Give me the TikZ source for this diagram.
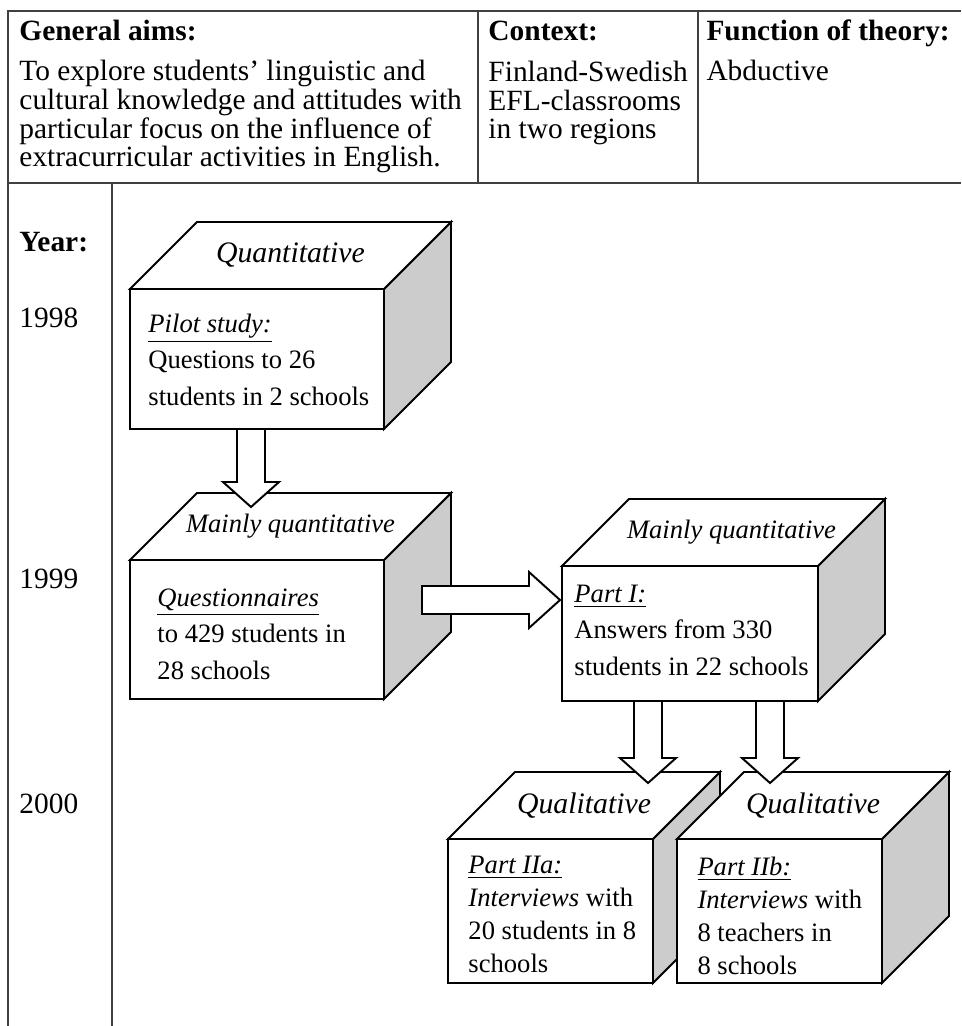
\documentclass[tikz,border=0pt]{standalone}
\usepackage{fontspec}
\setmainfont{Liberation Serif}
\usetikzlibrary{calc}

\tikzset{
  rule/.style={line width=0.55pt, draw=black!75},
  frontface/.style={line width=0.8pt, fill=white},
  topface/.style={line width=0.8pt, fill=white},
  sideface/.style={line width=0.8pt, fill=black!20},
  fatarrow/.style={line width=0.8pt, fill=white, line join=miter},
  % base anchor of these sits on the last line
  headtxt/.style={anchor=base west, inner sep=0pt, align=left, font=\fontsize{12.05}{11.8}\selectfont},
  boxtxt/.style={anchor=base west, inner sep=0pt, align=left, font=\fontsize{10.9}{14.9}\selectfont},
  lowtxt/.style={boxtxt, font=\fontsize{10.9}{13.5}\selectfont},
  toplab/.style={inner sep=0pt, font=\fontsize{12.2}{12}\selectfont\itshape},
  toplabsmall/.style={inner sep=0pt, font=\fontsize{10.9}{12}\selectfont\itshape}
}

% box with top and side face: name, front top-left, width, height
\newcommand{\cuboid}[4]{%
  \coordinate (#1-nw) at (#2);
  \coordinate (#1-ne) at ($(#2)+(#3,0)$);
  \coordinate (#1-se) at ($(#2)+(#3,#4)$);
  \filldraw[sideface] (#1-ne) -- ++(67,-67) -- ++(0,#4) -- (#1-se) -- cycle;
  \filldraw[topface] (#1-nw) -- ++(67,-67) -- ++(#3,0) -- (#1-ne) -- cycle;
  \filldraw[frontface] (#1-nw) rectangle (#1-se);
  \coordinate (#1-top) at ($(#1-nw)+(#3/2+33.5,-33.5)$);
}

% block arrows: start, tip
\newcommand{\fatdown}[2]{%
  \filldraw[fatarrow] ($(#1)+(-14,0)$) -- ($(#1)+(14,0)$) -- ($(#2)+(14,-25)$)
    -- ($(#2)+(28,-25)$) -- (#2) -- ($(#2)+(-28,-25)$) -- ($(#2)+(-14,-25)$) -- cycle;}
\newcommand{\fatright}[2]{%
  \filldraw[fatarrow] ($(#1)+(0,-14)$) -- ($(#2)+(-31,-14)$) -- ($(#2)+(-31,-28)$)
    -- (#2) -- ($(#2)+(-31,28)$) -- ($(#2)+(-31,14)$) -- ($(#1)+(0,14)$) -- cycle;}

\begin{document}
\begin{tikzpicture}[x=0.41pt, y=-0.41pt]
\useasboundingbox (0,0) rectangle (961,1026);

% table lines
\draw[rule] (961,11) -- (8,11) -- (8,1026);
\draw[rule] (8,183) -- (961,183);
\draw[rule] (478,11) -- (478,183);
\draw[rule] (698,11) -- (698,183);
\draw[rule] (112,183) -- (112,1026);

% header row
\node[headtxt] (aimshd) at (19,41) {\textbf{General aims:}};
\node[headtxt] (aims) at (19,167) {To explore students' linguistic and\\cultural knowledge and attitudes with\\particular focus on the influence of\\extracurricular activities in English.};
\node[headtxt] (ctxhd) at (488,41) {\textbf{Context:}};
\node[headtxt] (ctx) at (488,139) {Finland-Swedish\\EFL-classrooms\\in two regions};
\node[headtxt] (funhd) at (706,41) {\textbf{Function of theory:}};
\node[headtxt] (fun) at (706,81) {Abductive};

% years
\node[headtxt] (yearhd) at (19,252) {\textbf{Year:}};
\node[headtxt] (y1998) at (19,327) {1998};
\node[headtxt] (y1999) at (19,588) {1999};
\node[headtxt] (y2000) at (19,813) {2000};

% boxes
\cuboid{pilot}{130,289}{254}{140}
\node[toplab] (pilotlab) at (pilot-top) {Quantitative};
\node[boxtxt] (pilottxt) at (148,405) {\underline{\textit{Pilot study:}}\\Questions to 26\\students in 2 schools};

\cuboid{quest}{130,560}{254}{139}
\node[toplabsmall] (questlab) at (quest-top) {Mainly quantitative};
\node[boxtxt] (questtxt) at (157,679) {\underline{\textit{Questionnaires}}\\to 429 students in\\28 schools};

\cuboid{partI}{562,566}{256}{135}
\node[toplabsmall] (partIlab) at ($(partI-top)+(8,0)$) {Mainly quantitative};
\node[boxtxt] (partItxt) at (574,675) {\underline{\textit{Part I:}}\\Answers from 330\\students in 22 schools};

\cuboid{partIIa}{448,839}{205}{144}
\node[toplab] (partIIalab) at (partIIa-top) {Qualitative};
\node[lowtxt] (partIIatxt) at (468,972) {\underline{\textit{Part IIa:}}\\\textit{Interviews} with\\20 students in 8\\schools};

\cuboid{partIIb}{677,839}{205}{144}
\node[toplab] (partIIblab) at (partIIb-top) {Qualitative};
\node[lowtxt] (partIIbtxt) at (697,974) {\underline{\textit{Part IIb:}}\\\textit{Interviews} with\\8 teachers in\\8 schools};

% arrows
\coordinate (a1s) at (251,429);
\coordinate (a1t) at (251,507);
\fatdown{a1s}{a1t}
\coordinate (a2s) at (422,600);
\coordinate (a2t) at (560,600);
\fatright{a2s}{a2t}
\coordinate (a3s) at (648,701);
\coordinate (a3t) at (648,783);
\fatdown{a3s}{a3t}
\coordinate (a4s) at (770,701);
\coordinate (a4t) at (770,783);
\fatdown{a4s}{a4t}
\end{tikzpicture}
\end{document}
